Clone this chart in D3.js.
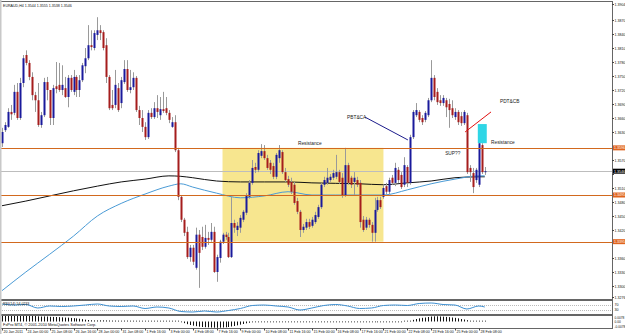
<!DOCTYPE html>
<html lang="en">
<head>
  <meta charset="UTF-8">
  <title>EURAUD H4</title>
  <style>
    body { margin: 0; background: #fff; }
    svg { display: block; font-family: "Liberation Sans", Arial, sans-serif; }
  </style>
</head>
<body>
  <script src="https://cdnjs.cloudflare.com/ajax/libs/d3/7.8.5/d3.min.js"></script>
  <svg id="chart"></svg>
  <script>
    var symbol = 'EURAUD,H4';

    var opens = [1.3606,1.3634,1.3641,1.3673,1.3671,1.3716,1.3660,1.3735,1.3795,1.3778,1.3748,1.3709,1.3698,1.3645,1.3666,1.3737,
      1.3720,1.3660,1.3728,1.3731,1.3720,1.3724,1.3705,1.3746,1.3716,1.3748,1.3720,1.3741,1.3771,1.3788,1.3816,1.3810,
      1.3838,1.3848,1.3844,1.3816,1.3748,1.3688,1.3688,1.3724,1.3692,1.3737,1.3765,1.3720,1.3726,1.3746,1.3677,1.3660,
      1.3641,1.3619,1.3671,1.3662,1.3681,1.3666,1.3679,1.3681,1.3671,1.3641,1.3651,1.3591,1.3491,1.3442,1.3416,1.3362,
      1.3382,1.3339,1.3410,1.3405,1.3384,1.3403,1.3399,1.3416,1.3330,1.3360,1.3395,1.3410,1.3405,1.3362,1.3435,1.3420,
      1.3425,1.3442,1.3457,1.3491,1.3521,1.3555,1.3549,1.3579,1.3589,1.3574,1.3564,1.3557,1.3534,1.3574,1.3587,1.3544,
      1.3529,1.3523,1.3517,1.3482,1.3459,1.3420,1.3425,1.3437,1.3429,1.3437,1.3448,1.3469,1.3517,1.3521,1.3527,1.3532,
      1.3534,1.3544,1.3532,1.3495,1.3559,1.3532,1.3523,1.3527,1.3521,1.3442,1.3425,1.3442,1.3431,1.3414,1.3463,1.3484,
      1.3491,1.3514,1.3502,1.3532,1.3521,1.3549,1.3538,1.3517,1.3555,1.3521,1.3619,1.3666,1.3673,1.3660,1.3656,1.3666,
      1.3698,1.3746,1.3716,1.3698,1.3692,1.3698,1.3690,1.3681,1.3662,1.3673,1.3664,1.3649,1.3666,1.3553,1.3542,1.3527,
      1.3517,1.3602,1.3544];
    var highs = [1.3639,1.3651,1.3681,1.3688,1.3731,1.3735,1.3746,1.3795,1.3805,1.3784,1.3758,1.3716,1.3735,1.3673,1.3746,1.3748,
      1.3720,1.3731,1.3780,1.3778,1.3773,1.3748,1.3752,1.3752,1.3763,1.3752,1.3752,1.3778,1.3810,1.3859,1.3848,1.3848,
      1.3876,1.3859,1.3848,1.3831,1.3752,1.3720,1.3763,1.3735,1.3748,1.3784,1.3784,1.3763,1.3758,1.3750,1.3686,1.3677,
      1.3651,1.3677,1.3681,1.3694,1.3709,1.3705,1.3716,1.3705,1.3677,1.3662,1.3666,1.3596,1.3495,1.3446,1.3427,1.3388,
      1.3388,1.3425,1.3420,1.3427,1.3431,1.3416,1.3435,1.3427,1.3367,1.3399,1.3414,1.3416,1.3414,1.3491,1.3442,1.3437,
      1.3452,1.3463,1.3499,1.3527,1.3570,1.3564,1.3591,1.3604,1.3602,1.3581,1.3570,1.3564,1.3585,1.3602,1.3591,1.3553,
      1.3536,1.3532,1.3523,1.3489,1.3463,1.3433,1.3444,1.3444,1.3448,1.3459,1.3474,1.3521,1.3534,1.3553,1.3540,1.3549,
      1.3581,1.3549,1.3542,1.3596,1.3564,1.3536,1.3544,1.3534,1.3527,1.3450,1.3448,1.3446,1.3437,1.3489,1.3491,1.3491,
      1.3517,1.3521,1.3532,1.3538,1.3564,1.3555,1.3544,1.3576,1.3559,1.3624,1.3677,1.3692,1.3677,1.3666,1.3675,1.3703,
      1.3784,1.3752,1.3724,1.3709,1.3709,1.3703,1.3701,1.3698,1.3681,1.3677,1.3673,1.3677,1.3671,1.3559,1.3553,1.3553,
      1.3613,1.3606,1.3555];
    var lows = [1.3598,1.3630,1.3639,1.3656,1.3666,1.3656,1.3656,1.3726,1.3773,1.3741,1.3698,1.3673,1.3641,1.3639,1.3662,1.3698,
      1.3645,1.3645,1.3713,1.3716,1.3709,1.3703,1.3683,1.3716,1.3709,1.3705,1.3705,1.3737,1.3756,1.3784,1.3805,1.3805,
      1.3827,1.3827,1.3805,1.3735,1.3677,1.3677,1.3681,1.3673,1.3681,1.3733,1.3716,1.3713,1.3720,1.3673,1.3645,1.3630,
      1.3613,1.3615,1.3658,1.3658,1.3660,1.3656,1.3671,1.3666,1.3649,1.3639,1.3587,1.3484,1.3437,1.3407,1.3358,1.3352,
      1.3345,1.3335,1.3296,1.3377,1.3380,1.3388,1.3395,1.3328,1.3309,1.3350,1.3390,1.3399,1.3360,1.3360,1.3414,1.3407,
      1.3414,1.3437,1.3452,1.3487,1.3517,1.3542,1.3544,1.3574,1.3570,1.3549,1.3540,1.3529,1.3529,1.3564,1.3540,1.3523,
      1.3512,1.3497,1.3474,1.3454,1.3405,1.3414,1.3420,1.3422,1.3425,1.3433,1.3444,1.3465,1.3512,1.3517,1.3523,1.3527,
      1.3529,1.3519,1.3489,1.3491,1.3517,1.3510,1.3495,1.3512,1.3425,1.3416,1.3420,1.3425,1.3395,1.3395,1.3459,1.3465,
      1.3487,1.3497,1.3497,1.3517,1.3514,1.3521,1.3508,1.3512,1.3512,1.3517,1.3615,1.3662,1.3651,1.3645,1.3651,1.3662,
      1.3694,1.3698,1.3688,1.3686,1.3686,1.3662,1.3639,1.3660,1.3656,1.3645,1.3643,1.3645,1.3540,1.3523,1.3499,1.3521,
      1.3512,1.3540,1.3538];
    var closes = [1.3630,1.3645,1.3673,1.3668,1.3716,1.3660,1.3735,1.3788,1.3778,1.3748,1.3709,1.3698,1.3645,1.3666,1.3737,1.3720,
      1.3660,1.3724,1.3722,1.3720,1.3731,1.3705,1.3746,1.3720,1.3748,1.3720,1.3741,1.3773,1.3788,1.3816,1.3812,1.3842,
      1.3848,1.3842,1.3810,1.3748,1.3681,1.3681,1.3731,1.3677,1.3741,1.3765,1.3720,1.3726,1.3746,1.3677,1.3660,1.3641,
      1.3619,1.3671,1.3662,1.3681,1.3673,1.3679,1.3675,1.3671,1.3656,1.3651,1.3591,1.3491,1.3442,1.3414,1.3362,1.3382,
      1.3352,1.3410,1.3371,1.3384,1.3403,1.3399,1.3416,1.3330,1.3362,1.3395,1.3410,1.3405,1.3362,1.3435,1.3425,1.3429,
      1.3446,1.3459,1.3495,1.3521,1.3553,1.3549,1.3585,1.3589,1.3574,1.3553,1.3549,1.3534,1.3581,1.3591,1.3544,1.3527,
      1.3517,1.3502,1.3478,1.3459,1.3420,1.3427,1.3437,1.3427,1.3442,1.3452,1.3469,1.3517,1.3527,1.3532,1.3534,1.3542,
      1.3544,1.3523,1.3495,1.3559,1.3521,1.3517,1.3532,1.3517,1.3437,1.3420,1.3442,1.3431,1.3414,1.3463,1.3484,1.3469,
      1.3510,1.3502,1.3527,1.3521,1.3553,1.3527,1.3512,1.3559,1.3521,1.3619,1.3673,1.3677,1.3656,1.3651,1.3671,1.3698,
      1.3746,1.3705,1.3694,1.3692,1.3703,1.3683,1.3677,1.3666,1.3673,1.3651,1.3649,1.3673,1.3544,1.3544,1.3512,1.3549,
      1.3606,1.3544,1.3546];

    // moving averages, read every 8 bars
    var maBars   = [0, 8, 16, 24, 32, 40, 48, 56, 60, 64, 72, 80, 88, 96, 104, 112, 120, 128, 136, 144, 152, 160, 162];
    var maSlow   = [1.3472,1.3482,1.3493,1.3504,1.3514,1.3523,1.3529,1.3536,1.3535,1.3532,1.3525,1.3523,1.3523,1.3523,1.3521,1.3520,1.3519,1.3517,1.3521,1.3525,1.3532,1.3534,1.3534];
    var maFast   = [1.3290,1.3330,1.3368,1.3407,1.3450,1.3477,1.3497,1.3514,1.3519,1.3512,1.3499,1.3489,1.3493,1.3502,1.3495,1.3495,1.3495,1.3495,1.3506,1.3519,1.3529,1.3536,1.3536];

    // RSI(14), read every 4 bars
    var rsiBars = [0,4,8,12,16,20,24,28,32,36,40,44,48,52,56,60,64,68,72,76,80,84,88,92,96,100,104,108,112,116,120,124,128,132,136,140,144,148,152,156,160,162];
    var rsiVals = [78,70,74,46,62,58,62,70,78,62,58,62,42,54,46,18,14,22,14,26,42,66,70,62,54,30,46,66,74,62,42,46,66,70,66,82,86,74,70,38,62,54.0233];

    // MACD main line, one value per bar
    var macdVals = [0.0068,0.0068,0.0069,0.0069,0.0070,0.0069,0.0070,0.0071,0.0072,0.0071,0.0069,0.0066,0.0062,0.0060,0.0061,0.0060,
      0.0056,0.0055,0.0054,0.0052,0.0050,0.0047,0.0046,0.0043,0.0040,0.0037,0.0033,0.0028,0.0022,0.0018,0.0015,0.0013,
      0.0013,0.0014,0.0014,0.0013,0.0012,0.0011,0.0011,0.0010,0.0010,0.0011,0.0011,0.0010,0.0010,0.0009,0.0009,0.0008,
      0.0008,0.0008,0.0008,0.0008,0.0009,0.0009,0.0009,0.0008,0.0008,0.0007,0.0006,0.0003,-0.0008,-0.0020,-0.0032,-0.0042,
      -0.0050,-0.0056,-0.0062,-0.0066,-0.0068,-0.0070,-0.0072,-0.0074,-0.0075,-0.0074,-0.0072,-0.0070,-0.0066,-0.0060,-0.0054,-0.0046,
      -0.0038,-0.0030,-0.0022,-0.0015,-0.0010,-0.0008,-0.0007,-0.0006,-0.0007,-0.0008,-0.0007,-0.0006,-0.0007,-0.0007,-0.0008,-0.0007,
      -0.0006,-0.0007,-0.0008,-0.0008,-0.0007,-0.0007,-0.0006,-0.0007,-0.0008,-0.0007,-0.0006,-0.0007,-0.0007,-0.0008,-0.0007,-0.0006,
      -0.0007,-0.0008,-0.0007,-0.0007,-0.0006,-0.0007,-0.0008,-0.0007,-0.0007,-0.0006,-0.0007,-0.0008,-0.0007,-0.0007,-0.0006,-0.0007,
      -0.0007,-0.0008,-0.0007,-0.0006,-0.0007,-0.0005,-0.0003,0.0000,0.0005,0.0010,0.0020,0.0030,0.0038,0.0044,0.0048,0.0054,
      0.0060,0.0062,0.0062,0.0060,0.0058,0.0055,0.0052,0.0048,0.0044,0.0038,0.0030,0.0024,0.0016,0.0010,0.0008,0.0008,
      0.0008,0.0008,0.0008];

    var priceTicks = [1.3870,1.3840,1.3810,1.3780,1.3750,1.3720,1.3690,1.3660,1.3630,1.3570,1.3540,1.3510,1.3480,1.3450,1.3420,1.3360,1.3330,1.3300];
    var levels = [1.3596, 1.3495, 1.3395];
    var timeLabels = ['20 Jan 2011','24 Jan 00:00','25 Jan 08:00','26 Jan 16:00','28 Jan 00:00','31 Jan 08:00','1 Feb 16:00',
      '3 Feb 00:00','4 Feb 08:00','7 Feb 16:00','9 Feb 00:00','10 Feb 08:00','11 Feb 16:00','15 Feb 00:00','16 Feb 08:00',
      '17 Feb 16:00','21 Feb 00:00','22 Feb 08:00','23 Feb 16:00','25 Feb 00:00','28 Feb 08:00'];

    // drawn objects (bar index / price)
    var zone = {from: 74, to: 128, top: 1.3596, bottom: 1.3395};
    var trendA = {b1: 121.8, p1: 1.3662, b2: 136.2, p2: 1.3613};
    var trendB = {b1: 155.4, p1: 1.3630, b2: 164.1, p2: 1.3673};
    var box2 = {from: 160, to: 162, top: 1.3647, bottom: 1.3606};
    var notes = [
      {text: 'Resistance', b: 103.3, p: 1.3602, anchor: 'middle'},
      {text: 'PBT&CA', b: 115.8, p: 1.3658, anchor: 'start'},
      {text: 'PDT&CB', b: 167.1, p: 1.3693, anchor: 'start'},
      {text: 'SUP??', b: 148.7, p: 1.3581, anchor: 'start'},
      {text: 'Resistance', b: 164.1, p: 1.3604, anchor: 'start'}
    ];

    var W = 625, H = 334;
    var axisX = 612;
    var small = 3.6;
    var main = {top: 1, bottom: 299};
    var rsiP = {top: 300, bottom: 314};
    var macdP = {top: 315, bottom: 328};

    var svg = d3.select('#chart').attr('width', W).attr('height', H);

    var x = d3.scaleLinear().domain([0, 162]).range([2, 2 + 2.98 * 162]);
    var y = d3.scaleLinear().domain([1.3600, 1.3870]).range([146, 20]);
    var yRsi = d3.scaleLinear().domain([0, 100]).range([313.75, 301.25]);
    var yMacd = d3.scaleLinear().domain([-0.0078, 0.0078]).range([328, 315]);

    svg.append('clipPath').attr('id', 'clipMain')
      .append('rect').attr('x', 0).attr('y', main.top).attr('width', axisX).attr('height', main.bottom - main.top);

    var g = svg.append('g').attr('clip-path', 'url(#clipMain)');

    // yellow zone
    g.append('rect')
      .attr('x', x(zone.from)).attr('y', y(zone.top))
      .attr('width', x(zone.to) - x(zone.from)).attr('height', y(zone.bottom) - y(zone.top))
      .attr('fill', '#f7e68f');

    // current price line
    var last = closes.length - 1;
    g.append('line')
      .attr('x1', 0).attr('x2', axisX)
      .attr('y1', Math.round(y(closes[last])) + 0.5).attr('y2', Math.round(y(closes[last])) + 0.5)
      .attr('stroke', '#bdbdbd').attr('stroke-width', 1);

    // moving averages
    var maLine = function(vals) {
      return d3.line()
        .x(function(d, i) { return x(maBars[i]); })
        .y(function(d) { return y(d); })
        .curve(d3.curveMonotoneX)(vals);
    };
    g.append('path').attr('d', maLine(maSlow)).attr('fill', 'none').attr('stroke', '#111').attr('stroke-width', 1);
    g.append('path').attr('d', maLine(maFast)).attr('fill', 'none').attr('stroke', '#4a9bd6').attr('stroke-width', 1);

    // candles
    var candles = g.selectAll('g.c').data(opens).enter().append('g');
    candles.append('line')
      .attr('x1', function(d, i) { return Math.round(x(i)) + 0.5; })
      .attr('x2', function(d, i) { return Math.round(x(i)) + 0.5; })
      .attr('y1', function(d, i) { return y(highs[i]); })
      .attr('y2', function(d, i) { return y(lows[i]); })
      .attr('stroke', '#9a9a9a').attr('stroke-width', 1);
    candles.append('rect')
      .attr('x', function(d, i) { return Math.round(x(i)) - 0.5; })
      .attr('width', 2)
      .attr('y', function(d, i) { return Math.min(y(opens[i]), y(closes[i])); })
      .attr('height', function(d, i) { return Math.max(1, Math.abs(y(opens[i]) - y(closes[i]))); })
      .attr('fill', function(d, i) { return closes[i] >= opens[i] ? '#1a1a9c' : '#a51d1d'; });

    // horizontal levels
    g.selectAll('line.lvl').data(levels).enter().append('line')
      .attr('x1', 0).attr('x2', axisX)
      .attr('y1', function(d) { return Math.round(y(d)) + 0.5; })
      .attr('y2', function(d) { return Math.round(y(d)) + 0.5; })
      .attr('stroke', '#d2691e').attr('stroke-width', 1);

    // trend lines & cyan box
    g.append('line')
      .attr('x1', x(trendA.b1)).attr('y1', y(trendA.p1)).attr('x2', x(trendA.b2)).attr('y2', y(trendA.p2))
      .attr('stroke', '#1c1c8c').attr('stroke-width', 1);
    g.append('line')
      .attr('x1', x(trendB.b1)).attr('y1', y(trendB.p1)).attr('x2', x(trendB.b2)).attr('y2', y(trendB.p2))
      .attr('stroke', '#e01010').attr('stroke-width', 1);
    g.append('rect')
      .attr('x', x(box2.from) - 1).attr('y', y(box2.top))
      .attr('width', x(box2.to) - x(box2.from) + 3).attr('height', y(box2.bottom) - y(box2.top))
      .attr('fill', '#2fd6e6');

    g.selectAll('text.note').data(notes).enter().append('text')
      .attr('x', function(d) { return x(d.b); })
      .attr('y', function(d) { return y(d.p); })
      .attr('text-anchor', function(d) { return d.anchor; })
      .attr('font-size', 4.8).attr('fill', '#222')
      .text(function(d) { return d.text; });

    // title
    svg.append('text').attr('x', 3).attr('y', 7).attr('font-size', small).attr('fill', '#111')
      .text(symbol + '  ' + [opens[last], highs[last], lows[last], closes[last]].map(function(v) { return v.toFixed(4); }).join(' '));

    // RSI panel
    [70, 30].forEach(function(v) {
      svg.append('line').attr('x1', 0).attr('x2', axisX)
        .attr('y1', Math.round(yRsi(v)) + 0.5).attr('y2', Math.round(yRsi(v)) + 0.5)
        .attr('stroke', '#bbb').attr('stroke-dasharray', '1,1');
    });
    svg.append('path')
      .attr('d', d3.line().x(function(d, i) { return x(rsiBars[i]); }).y(function(d) { return yRsi(d); }).curve(d3.curveMonotoneX)(rsiVals))
      .attr('fill', 'none').attr('stroke', '#3d8fd1').attr('stroke-width', 1);
    svg.append('text').attr('x', 3).attr('y', 305).attr('font-size', small).attr('fill', '#111')
      .text('RSI(14) ' + rsiVals[rsiVals.length - 1].toFixed(4));

    // MACD panel
    svg.selectAll('line.macd').data(macdVals).enter().append('line')
      .attr('x1', function(d, i) { return Math.round(x(i)) + 0.5; })
      .attr('x2', function(d, i) { return Math.round(x(i)) + 0.5; })
      .attr('y1', yMacd(0))
      .attr('y2', function(d) { var v = yMacd(d); return Math.abs(v - yMacd(0)) < 0.8 ? yMacd(0) + (d < 0 ? 0.8 : -0.8) : v; })
      .attr('stroke', '#111').attr('stroke-width', 1);
    svg.append('text').attr('x', 3).attr('y', 326).attr('font-size', 3.9).attr('fill', '#111')
      .text('FxPro MT4, \u00a9 2001-2010 MetaQuotes Software Corp.');

    // frames
    [main, rsiP, macdP].forEach(function(p) {
      svg.append('rect').attr('x', 0.5).attr('y', p.top + 0.5).attr('width', axisX).attr('height', p.bottom - p.top)
        .attr('fill', 'none').attr('stroke', '#666').attr('stroke-width', 1);
    });
    svg.append('rect').attr('x', 0).attr('y', 0).attr('width', 1.5).attr('height', H).attr('fill', '#c8c8c8');

    // price axis
    var ax = svg.append('g').attr('font-size', small).attr('fill', '#111');
    var tagPrices = levels.concat([closes[last]]);
    var edgeTicks = [y.invert(4), y.invert(297)];
    priceTicks.concat(edgeTicks).forEach(function(p) {
      var yy = Math.round(y(p)) + 0.5;
      var hidden = tagPrices.some(function(t) { return Math.abs(y(t) - yy) < 4.5; });
      ax.append('line').attr('x1', axisX).attr('x2', axisX + 2).attr('y1', yy).attr('y2', yy).attr('stroke', '#444');
      if (!hidden) ax.append('text').attr('x', axisX + 2.5).attr('y', yy + 1.3).text(p.toFixed(4));
    });
    var tag = function(p, col) {
      var yy = y(p);
      ax.append('rect').attr('x', axisX + 1).attr('y', yy - 2.5).attr('width', 12).attr('height', 5).attr('fill', col);
      ax.append('text').attr('x', axisX + 2).attr('y', yy + 1.3).attr('fill', '#fff').text(p.toFixed(4));
    };
    levels.forEach(function(p) { tag(p, '#e0641e'); });
    tag(closes[last], '#000');

    // indicator axes
    [[yRsi(70), '70'], [yRsi(30), '30']].forEach(function(t) {
      ax.append('text').attr('x', axisX + 2.5).attr('y', t[0] + 1.3).text(t[1]);
    });
    [[yMacd.domain()[1], 318.5], [0, yMacd(0) + 1.3], [yMacd.domain()[0], 327.5]].forEach(function(t) {
      ax.append('text').attr('x', axisX + 2.5).attr('y', t[1]).attr('font-size', 3.2).text(t[0] === 0 ? '0.00' : t[0].toFixed(4));
    });

    // time axis
    var tx = svg.append('g').attr('font-size', small).attr('fill', '#111');
    timeLabels.forEach(function(lbl, k) {
      var xx = Math.round(x(k * 8)) + 0.5;
      tx.append('line').attr('x1', xx).attr('x2', xx).attr('y1', macdP.bottom + 0.5).attr('y2', macdP.bottom + 2.5).attr('stroke', '#444');
      tx.append('text').attr('x', xx + 1).attr('y', 332.5).text(lbl);
    });
  </script>
</body>
</html>
